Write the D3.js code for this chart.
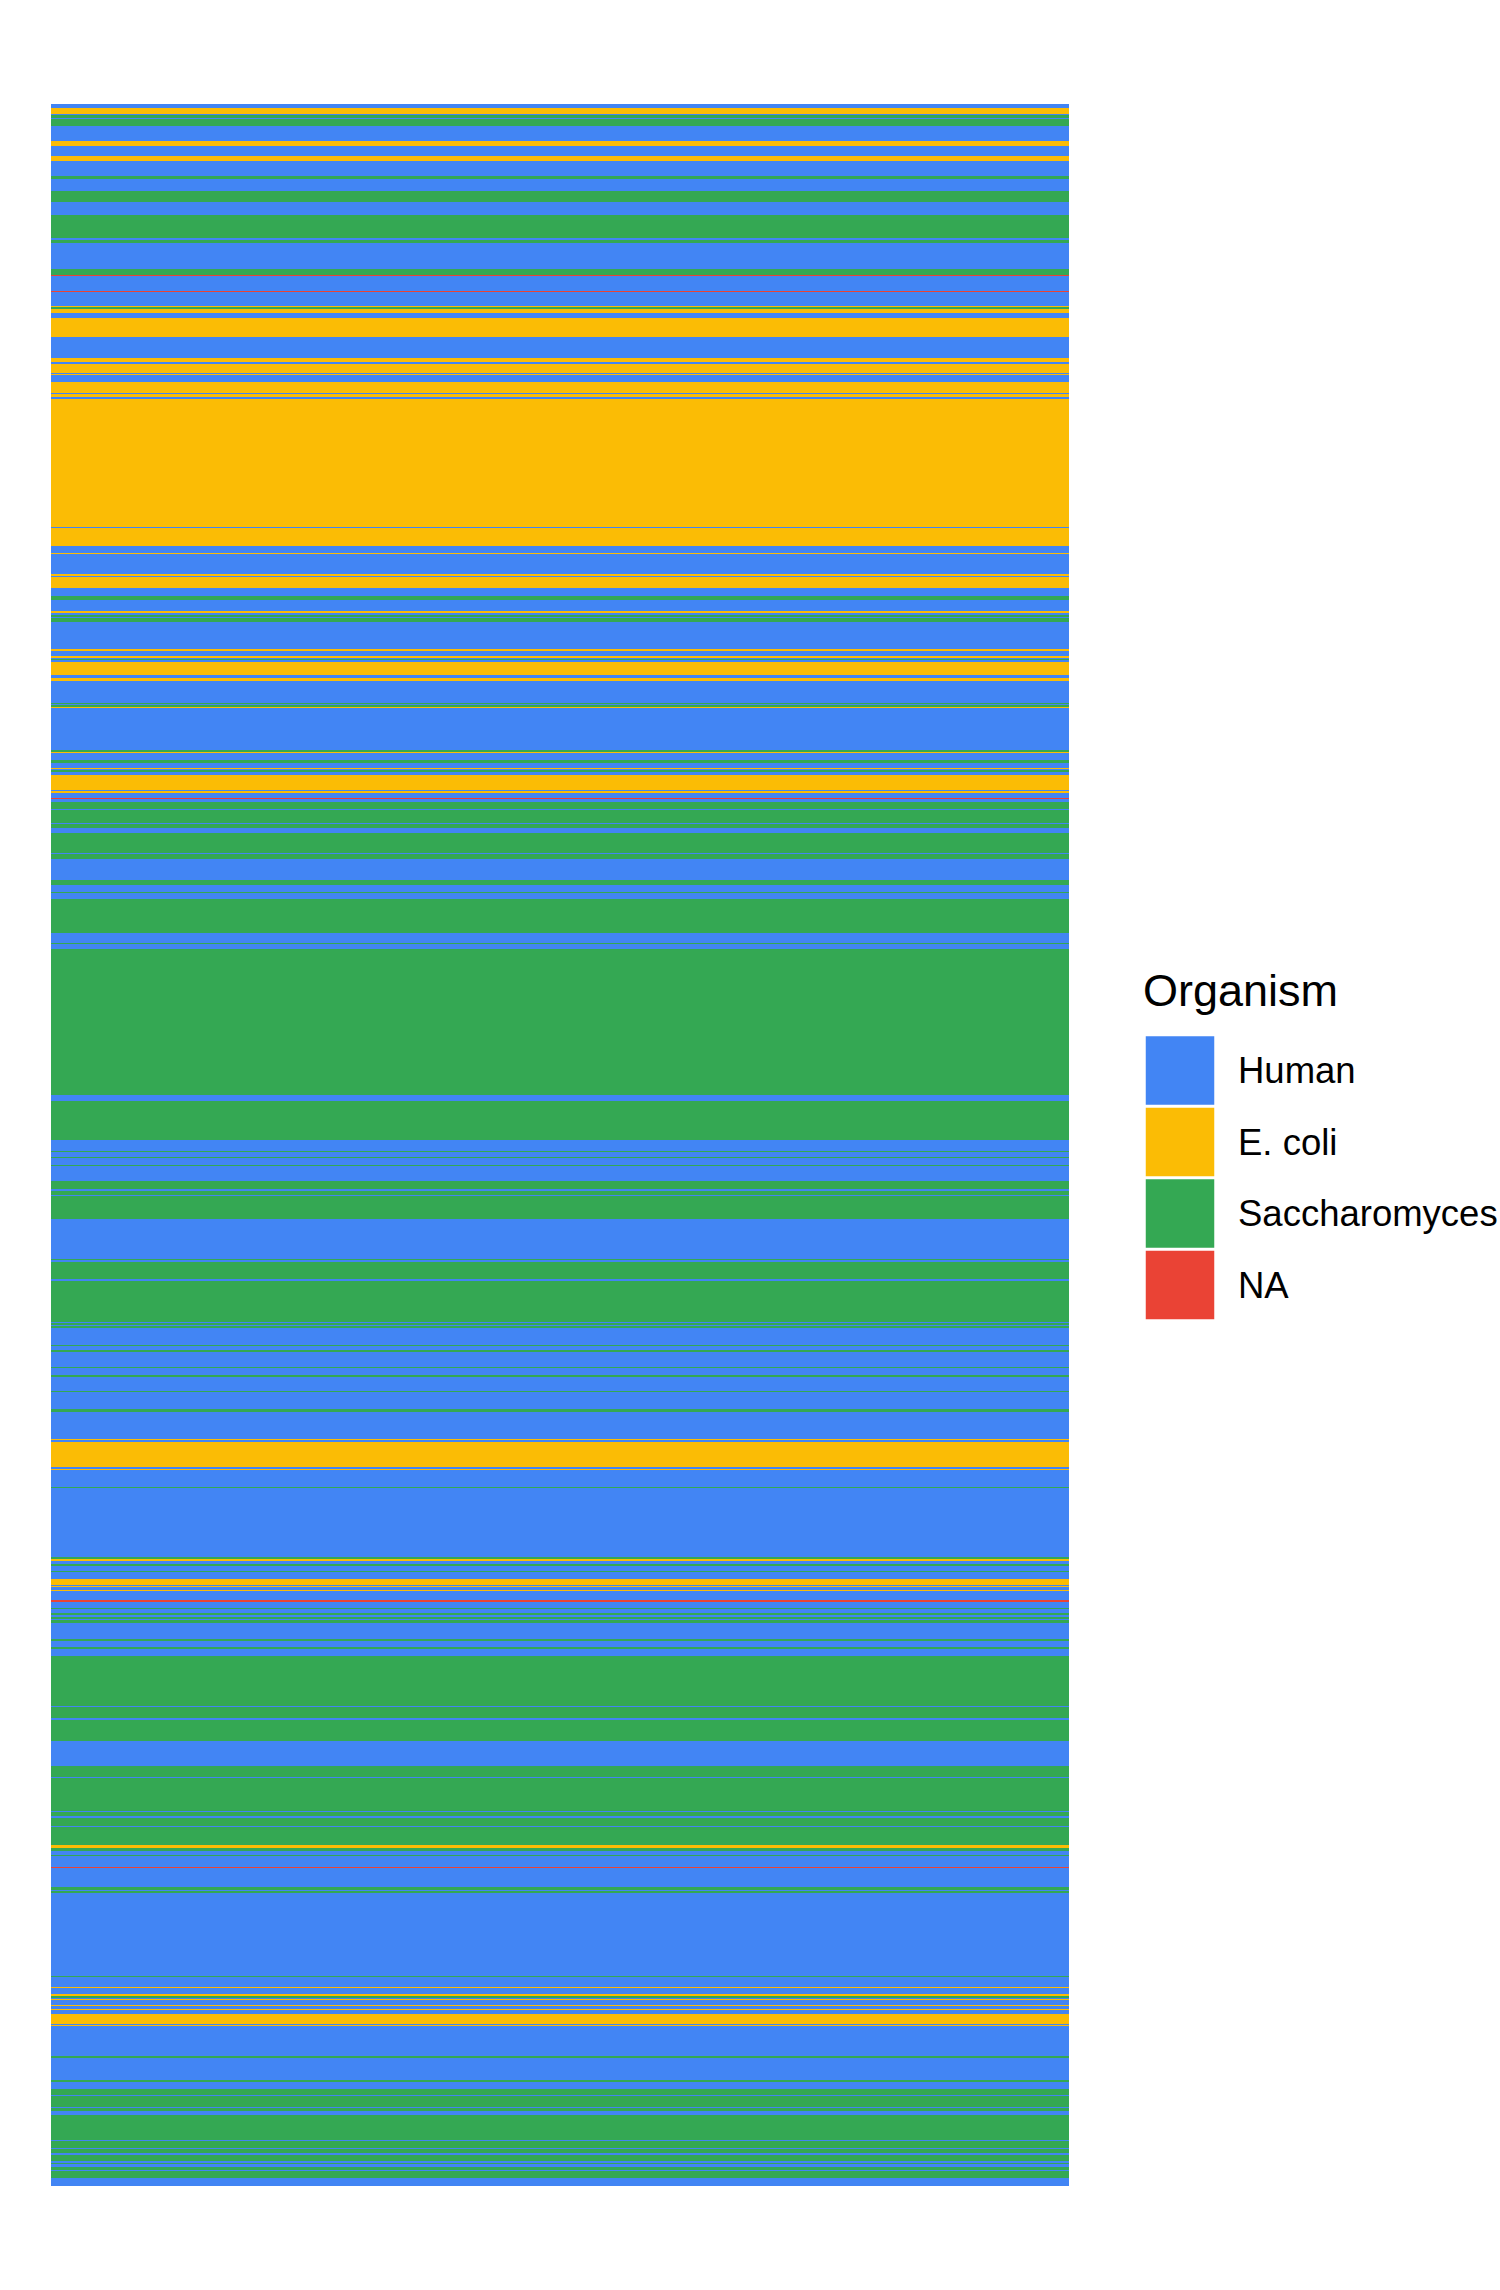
<!DOCTYPE html>
<html>
<head>
<meta charset="utf-8">
<script src="https://cdn.jsdelivr.net/npm/d3@7"></script>
<style>
  html, body { margin: 0; padding: 0; background: #fff; }
  svg { display: block; }
</style>
</head>
<body>
<div id="chart"></div>
<script>
// Organism categories (legend order) and their colours
const categories = ["Human", "E. coli", "Saccharomyces", "NA"];
const categoryColors = ["#4285F4", "#FBBC05", "#34A853", "#EA4335"];

// Stripe runs read top-to-bottom: organism code per run
// H = Human, E = E. coli, S = Saccharomyces, N = NA
const runOrganism = [
  "H","E","H","S","H","S","H","E","H","E","H","S","H","S","H","S","H","S","H","S",
  "N","H","N","H","E","S","E","H","E","H","E","H","E","H","E","H","E","H","E","H",
  "E","H","E","H","E","H","E","H","E","H","S","H","E","H","S","H","S","H","E","H",
  "E","H","S","H","E","H","E","H","S","H","S","E","H","S","E","H","S","H","E","H",
  "S","H","E","H","E","H","N","H","S","H","S","H","S","H","S","H","S","H","S","H",
  "S","H","S","H","S","H","S","H","S","H","S","H","S","H","S","H","S","H","S","H",
  "S","H","S","H","S","H","S","H","S","H","S","H","S","H","S","H","S","H","S","H",
  "S","H","S","H","E","H","E","H","E","H","S","H","S","E","H","S","H","S","H","E",
  "H","E","H","E","H","N","H","S","H","S","H","S","H","S","H","S","H","S","H","S",
  "H","S","H","S","H","S","H","S","H","S","H","S","H","S","E","S","H","S","H","N",
  "H","S","H","S","H","S","H","E","H","E","S","H","E","H","E","H","E","H","E","H",
  "E","H","S","H","S","H","S","H","S","H","S","H","S","H","S","H","S","H","S","H",
  "S","H","S","H","S","H"
];
// Run lengths, in rows
const runLength = [
  4,6,1,3,1,7,15,5,10,5,15,3,12,11,13,23,2,3,26,6,
  1,15,1,14,1,2,4,5,19,21,4,2,9,1,1,7,11,1,3,2,
  128,1,18,7,1,20,2,1,11,8,4,11,2,2,2,1,4,27,2,5,
  2,1,1,2,13,3,3,22,1,1,2,1,42,2,1,7,3,5,1,1,
  2,3,15,1,2,5,1,3,7,1,13,1,4,5,20,1,5,21,5,7,
  1,6,34,10,1,5,146,6,39,11,1,5,1,7,1,15,8,2,4,1,
  23,40,1,2,17,2,41,1,2,1,2,17,1,4,2,15,1,7,2,14,
  1,17,3,27,1,2,25,2,1,17,1,69,2,2,3,2,5,1,7,6,
  1,1,3,1,9,2,6,1,4,2,2,2,1,3,16,2,6,2,7,50,
  1,11,2,21,25,11,1,33,1,4,2,8,1,18,3,3,4,1,11,1,
  19,3,1,2,83,1,10,1,6,2,2,1,1,5,1,3,1,4,10,1,
  1,30,2,22,2,7,6,1,11,1,3,4,25,1,7,1,4,2,6,2,
  1,3,3,1,7,8
];
const codeToCategory = { H: "Human", E: "E. coli", S: "Saccharomyces", N: "NA" };

const W = 1500, H = 2290;
const plot = { left: 51, right: 1069, top: 104, bottom: 2186 };

// Build run table with cumulative starts
let acc = 0;
const runs = runOrganism.map((code, i) => {
  const r = { organism: codeToCategory[code], start: acc, length: runLength[i] };
  acc += runLength[i];
  return r;
});
const totalRows = acc;

const y = d3.scaleLinear().domain([0, totalRows]).range([plot.top, plot.bottom]);
const x = d3.scaleLinear().domain([0, 1]).range([plot.left, plot.right]);
const color = d3.scaleOrdinal().domain(categories).range(categoryColors);

const svg = d3.select("#chart").append("svg")
  .attr("width", W).attr("height", H)
  .attr("font-family", "'Liberation Sans', Arial, Helvetica, sans-serif");

svg.append("rect").attr("width", W).attr("height", H).attr("fill", "#fff");

svg.append("g").attr("shape-rendering", "crispEdges")
  .selectAll("rect").data(runs).join("rect")
  .attr("x", x(0))
  .attr("width", x(1) - x(0))
  .attr("y", d => y(d.start))
  .attr("height", d => y(d.start + d.length) - y(d.start))
  .attr("fill", d => color(d.organism));

// Legend
const legend = svg.append("g").attr("transform", "translate(1145, 0)");
legend.append("text")
  .attr("x", -2).attr("y", 1006)
  .attr("font-size", 45)
  .attr("fill", "#000")
  .text("Organism");

const keySize = 70, keyStep = 71.5, keyTop = 1035.5;
const ly = d3.scaleBand().domain(categories).range([keyTop, keyTop + keyStep * categories.length]);

const items = legend.selectAll("g.item").data(categories).join("g")
  .attr("class", "item")
  .attr("transform", d => `translate(0, ${ly(d)})`);
items.append("rect")
  .attr("width", keySize).attr("height", keySize)
  .attr("fill", d => color(d))
  .attr("stroke", "#fff").attr("stroke-width", 1.5);
items.append("text")
  .attr("x", 93)
  .attr("y", keySize / 2)
  .attr("dy", "0.35em")
  .attr("font-size", 36.5)
  .attr("fill", "#000")
  .text(d => d);
</script>
</body>
</html>
